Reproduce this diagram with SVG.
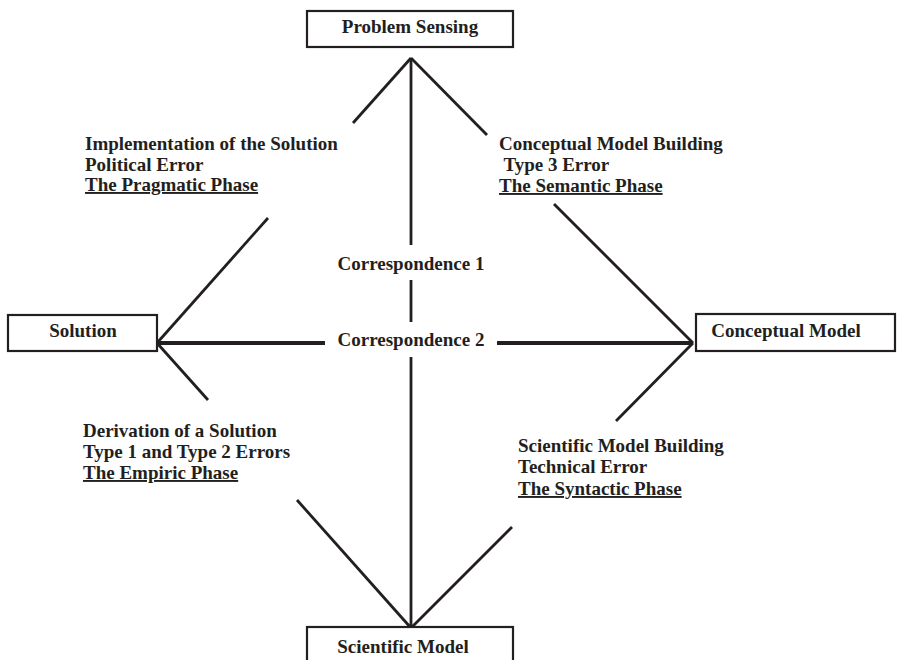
<svg xmlns="http://www.w3.org/2000/svg" width="897" height="660" viewBox="0 0 897 660">
<style>
text{font-family:"Liberation Serif","Times New Roman",serif;font-weight:bold;font-size:19px;fill:#231f20}
.box{fill:#fff;stroke:#231f20;stroke-width:2.2}
.ln{stroke:#231f20;stroke-width:2.8;fill:none;stroke-linecap:butt}
.hl{stroke:#231f20;stroke-width:3.8;fill:none}
.u{text-decoration:underline}
.c{text-anchor:middle}
</style>
<rect width="897" height="660" fill="#fff"/>
<g id="connectors">
<line class="ln" x1="411" y1="58" x2="411" y2="245"/>
<line class="ln" x1="411" y1="280" x2="411" y2="322"/>
<line class="ln" x1="411" y1="357" x2="411" y2="628"/>
<line class="hl" x1="157" y1="343" x2="325" y2="343"/>
<line class="hl" x1="497" y1="343" x2="693" y2="343"/>
<line class="ln" x1="411" y1="58" x2="353" y2="123"/>
<line class="ln" x1="268" y1="218" x2="157" y2="343"/>
<line class="ln" x1="411" y1="58" x2="487" y2="135"/>
<line class="ln" x1="554" y1="204" x2="693" y2="343"/>
<line class="ln" x1="157" y1="343" x2="208" y2="400"/>
<line class="ln" x1="297" y1="500" x2="411" y2="628"/>
<line class="ln" x1="693" y1="343" x2="616" y2="421"/>
<line class="ln" x1="512" y1="527" x2="411" y2="628"/>
</g>
<g id="problem-sensing">
<rect class="box" x="307" y="11" width="206" height="36"/>
<text class="c" x="410" y="33">Problem Sensing</text>
</g>
<g id="solution">
<rect class="box" x="8" y="315" width="149" height="36"/>
<text class="c" x="83" y="337">Solution</text>
</g>
<g id="conceptual-model">
<rect class="box" x="696" y="314" width="199" height="37"/>
<text class="c" x="786" y="337">Conceptual Model</text>
</g>
<g id="scientific-model">
<rect class="box" x="307" y="627" width="206" height="40"/>
<text class="c" x="403" y="653">Scientific Model</text>
</g>
<g id="labels">
<text x="85" y="150">Implementation of the Solution</text>
<text x="85" y="171">Political Error</text>
<text class="u" x="85" y="191">The Pragmatic Phase</text>
<text x="499" y="150">Conceptual Model Building</text>
<text x="499" y="171" xml:space="preserve"> Type 3 Error</text>
<text class="u" x="499" y="192">The Semantic Phase</text>
<text x="83" y="437">Derivation of a Solution</text>
<text x="83" y="458">Type 1 and Type 2 Errors</text>
<text class="u" x="83" y="479">The Empiric Phase</text>
<text x="518" y="452">Scientific Model Building</text>
<text x="518" y="473">Technical Error</text>
<text class="u" x="518" y="495">The Syntactic Phase</text>
<text class="c" x="411" y="270">Correspondence 1</text>
<text class="c" x="411" y="346">Correspondence 2</text>
</g>
</svg>
